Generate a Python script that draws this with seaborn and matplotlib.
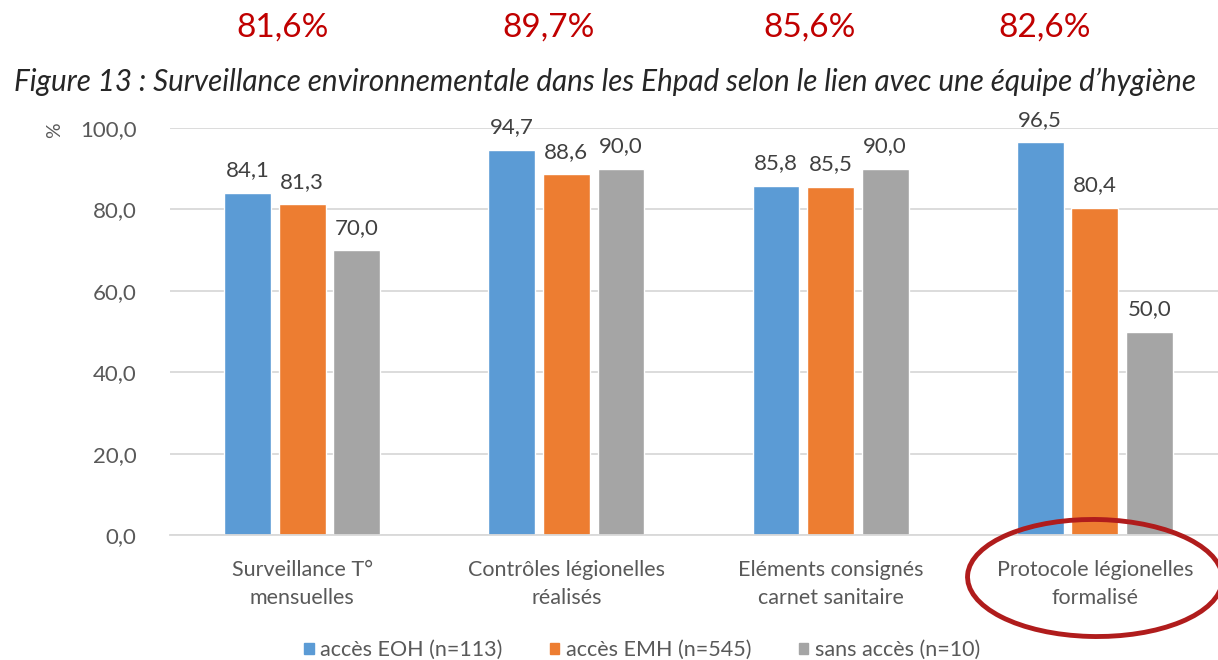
"""Figure 13: surveillance environnementale dans les Ehpad."""

import matplotlib

matplotlib.use("Agg")

import matplotlib.pyplot as plt
import pandas as pd
import seaborn as sns
from matplotlib.patches import Ellipse

categories = [
    "Surveillance T°\nmensuelles",
    "Contrôles légionelles\nréalisés",
    "Eléments consignés\ncarnet sanitaire",
    "Protocole légionelles\nformalisé",
]
series = ["accès EOH (n=113)", "accès EMH (n=545)", "sans accès (n=10)"]
eoh = [84.1, 94.7, 85.8, 96.5]
emh = [81.3, 88.6, 85.5, 80.4]
sans = [70.0, 90.0, 90.0, 50.0]
totals = ["81,6%", "89,7%", "85,6%", "82,6%"]
colors = ["#5B9BD5", "#ED7D31", "#A5A5A5"]

df = pd.DataFrame(
    {
        "categorie": categories * 3,
        "groupe": [s for s in series for _ in categories],
        "valeur": eoh + emh + sans,
    }
)

sns.set_theme(style="white")
plt.rcParams["font.family"] = ["Lato", "DejaVu Sans"]
text_color = "#595959"

W, H = 1218, 660
fig = plt.figure(figsize=(W / 100, H / 100), dpi=100)
# axes in pixel terms: left 170, right 1227, top 128, bottom 535
ax = fig.add_axes([170 / W, 1 - 535 / H, (1227 - 170) / W, (535 - 128) / H])

sns.barplot(
    data=df,
    x="categorie",
    y="valeur",
    hue="groupe",
    palette=colors,
    width=0.62,
    gap=0.14,
    ax=ax,
    legend=False,
    saturation=1,
)

ax.set_ylim(0, 100)
ax.set_xlim(-0.5, len(categories) - 0.5)
ax.set_yticks(range(0, 101, 20))
ax.set_yticklabels([f"{v:.1f}".replace(".", ",") for v in range(0, 101, 20)])
ax.yaxis.grid(True, color="#D9D9D9", linewidth=1.3)
ax.set_axisbelow(True)
for side in ["top", "right", "left"]:
    ax.spines[side].set_visible(False)
ax.spines["bottom"].set_color("#D9D9D9")
ax.spines["bottom"].set_linewidth(1.3)
ax.tick_params(axis="y", length=0, pad=24, labelsize=16, labelcolor=text_color)
ax.tick_params(axis="x", length=0, pad=18, labelsize=15.5, labelcolor=text_color)
for lbl in ax.get_xticklabels():
    lbl.set_linespacing(1.5)
ax.set_xlabel("")
ax.set_ylabel("")

for container in ax.containers:
    ax.bar_label(
        container,
        labels=[f"{v:.1f}".replace(".", ",") for v in container.datavalues],
        padding=9,
        fontsize=16,
        color="#404040",
    )

fig.text(55 / W, 1 - 130 / H, "%", rotation=90, ha="center", va="center",
         fontsize=14, color=text_color)

for i, t in enumerate(totals):
    x_px = [283, 549, 810, 1045][i]
    fig.text(x_px / W, 1 - 28 / H, t, ha="center", va="center",
             fontsize=24, color="#C00000")

fig.text(605 / W, 1 - 82 / H,
         "Figure 13 : Surveillance environnementale dans les Ehpad selon le lien avec une équipe d\u2019hygiène",
         ha="center", va="center", fontsize=21.3, style="italic", color="#262626")

handles = [plt.Rectangle((0, 0), 1, 1, color=c) for c in colors]
fig.legend(handles, series, loc="center", bbox_to_anchor=(642 / W, 1 - 650 / H),
           ncol=3, frameon=False, fontsize=15.5, labelcolor=text_color,
           handlelength=0.45, handleheight=0.45, handletextpad=0.3, columnspacing=2.2)

fig.add_artist(
    Ellipse((1095 / W, 1 - 578 / H), 255 / W, 117 / H, transform=fig.transFigure,
            fill=False, edgecolor="#B01C1C", linewidth=3.5, angle=-3)
)

fig.savefig("out.png", dpi=100)
